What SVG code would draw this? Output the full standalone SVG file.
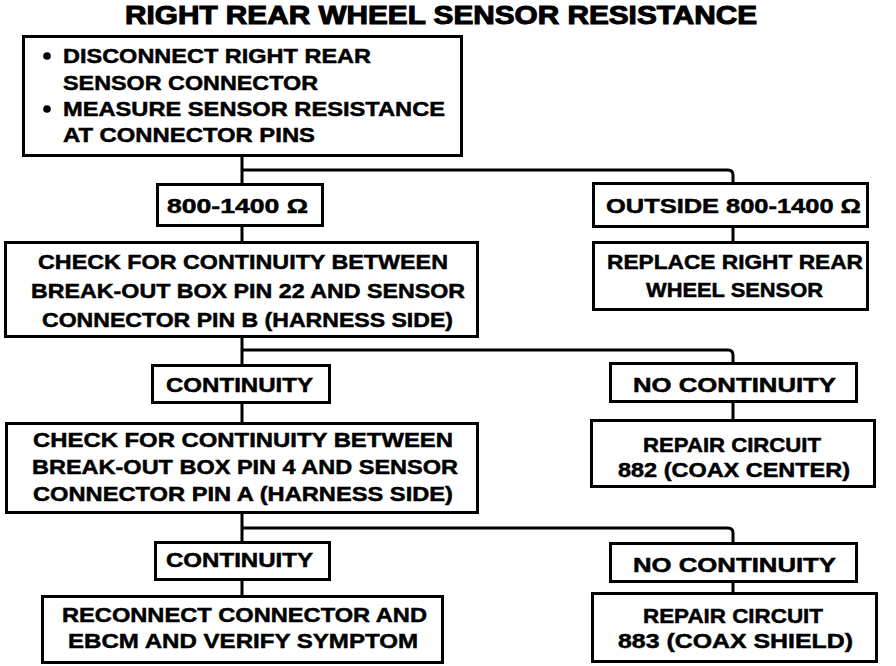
<svg xmlns="http://www.w3.org/2000/svg" width="896" height="666" viewBox="0 0 896 666">
<style>
  .box { fill: #fff; stroke: #000; stroke-width: 3; }
  .t { font-family: "Liberation Sans", Arial, sans-serif; font-weight: bold; font-size: 21px; fill: #000; stroke: #000; stroke-width: 0.5; }
  .title { font-family: "Liberation Sans", Arial, sans-serif; font-weight: bold; font-size: 25px; fill: #000; stroke: #000; stroke-width: 1; }
  .ln { fill: none; stroke: #000; stroke-width: 3; }
</style>
<rect width="896" height="666" fill="#fff"/>
<text class="title" x="125" y="24" textLength="632" lengthAdjust="spacingAndGlyphs">RIGHT REAR WHEEL SENSOR RESISTANCE</text>

<g id="connectors">
  <path class="ln" d="M242,156 V184 M242,226 V242 M242,337 V365 M242,403 V423 M242,513 V542 M242,580 V596"/>
  <path class="ln" d="M242,170 H728 Q733,170 733,175 V183"/>
  <path class="ln" d="M242,350 H728 Q733,350 733,355 V363"/>
  <path class="ln" d="M242,528 H728 Q733,528 733,533 V543"/>
  <path class="ln" d="M733,227 V242 M733,402 V420 M733,582 V593"/>
</g>

<g id="start">
  <rect class="box" x="23.5" y="36.5" width="438" height="119"/>
  <circle cx="47" cy="56" r="3.8"/>
  <circle cx="47" cy="109" r="3.8"/>
  <text class="t" x="63" y="63" textLength="308" lengthAdjust="spacingAndGlyphs">DISCONNECT RIGHT REAR</text>
  <text class="t" x="63" y="90" textLength="255" lengthAdjust="spacingAndGlyphs">SENSOR CONNECTOR</text>
  <text class="t" x="63" y="116" textLength="382" lengthAdjust="spacingAndGlyphs">MEASURE SENSOR RESISTANCE</text>
  <text class="t" x="63" y="142" textLength="252" lengthAdjust="spacingAndGlyphs">AT CONNECTOR PINS</text>
</g>

<g id="in-range">
  <rect class="box" x="157.5" y="184.5" width="165" height="41"/>
  <text class="t" x="167" y="213" textLength="141" lengthAdjust="spacingAndGlyphs">800-1400 Ω</text>
</g>

<g id="out-range">
  <rect class="box" x="593.5" y="183.5" width="274" height="43"/>
  <text class="t" x="606" y="213" textLength="255" lengthAdjust="spacingAndGlyphs">OUTSIDE 800-1400 Ω</text>
</g>

<g id="replace-sensor">
  <rect class="box" x="593.5" y="242.5" width="274" height="67"/>
  <text class="t" x="607" y="269" textLength="256" lengthAdjust="spacingAndGlyphs">REPLACE RIGHT REAR</text>
  <text class="t" x="646" y="297" textLength="177" lengthAdjust="spacingAndGlyphs">WHEEL SENSOR</text>
</g>

<g id="check-pin22">
  <rect class="box" x="5.5" y="242.5" width="472" height="94"/>
  <text class="t" x="38" y="269" textLength="410" lengthAdjust="spacingAndGlyphs">CHECK FOR CONTINUITY BETWEEN</text>
  <text class="t" x="31" y="298" textLength="434" lengthAdjust="spacingAndGlyphs">BREAK-OUT BOX PIN 22 AND SENSOR</text>
  <text class="t" x="42" y="327" textLength="411" lengthAdjust="spacingAndGlyphs">CONNECTOR PIN B (HARNESS SIDE)</text>
</g>

<g id="continuity-1">
  <rect class="box" x="152.5" y="365.5" width="177" height="37"/>
  <text class="t" x="166" y="392" textLength="147" lengthAdjust="spacingAndGlyphs">CONTINUITY</text>
</g>

<g id="no-continuity-1">
  <rect class="box" x="610.5" y="363.5" width="246" height="38"/>
  <text class="t" x="633" y="392" textLength="203" lengthAdjust="spacingAndGlyphs">NO CONTINUITY</text>
</g>

<g id="repair-882">
  <rect class="box" x="591.5" y="420.5" width="283" height="66"/>
  <text class="t" x="643" y="452" textLength="178" lengthAdjust="spacingAndGlyphs">REPAIR CIRCUIT</text>
  <text class="t" x="618" y="477" textLength="232" lengthAdjust="spacingAndGlyphs">882 (COAX CENTER)</text>
</g>

<g id="check-pin4">
  <rect class="box" x="6.5" y="423.5" width="471" height="89"/>
  <text class="t" x="33" y="447" textLength="420" lengthAdjust="spacingAndGlyphs">CHECK FOR CONTINUITY BETWEEN</text>
  <text class="t" x="32" y="474" textLength="426" lengthAdjust="spacingAndGlyphs">BREAK-OUT BOX PIN 4 AND SENSOR</text>
  <text class="t" x="33" y="501" textLength="420" lengthAdjust="spacingAndGlyphs">CONNECTOR PIN A (HARNESS SIDE)</text>
</g>

<g id="continuity-2">
  <rect class="box" x="155.5" y="542.5" width="174" height="37"/>
  <text class="t" x="166" y="567" textLength="147" lengthAdjust="spacingAndGlyphs">CONTINUITY</text>
</g>

<g id="no-continuity-2">
  <rect class="box" x="610.5" y="543.5" width="246" height="38"/>
  <text class="t" x="633" y="572" textLength="203" lengthAdjust="spacingAndGlyphs">NO CONTINUITY</text>
</g>

<g id="reconnect">
  <rect class="box" x="42.5" y="596.5" width="400" height="66"/>
  <text class="t" x="62" y="622" textLength="365" lengthAdjust="spacingAndGlyphs">RECONNECT CONNECTOR AND</text>
  <text class="t" x="68" y="648" textLength="350" lengthAdjust="spacingAndGlyphs">EBCM AND VERIFY SYMPTOM</text>
</g>

<g id="repair-883">
  <rect class="box" x="592.5" y="593.5" width="284" height="68"/>
  <text class="t" x="643" y="623" textLength="180" lengthAdjust="spacingAndGlyphs">REPAIR CIRCUIT</text>
  <text class="t" x="618" y="648" textLength="235" lengthAdjust="spacingAndGlyphs">883 (COAX SHIELD)</text>
</g>
</svg>
